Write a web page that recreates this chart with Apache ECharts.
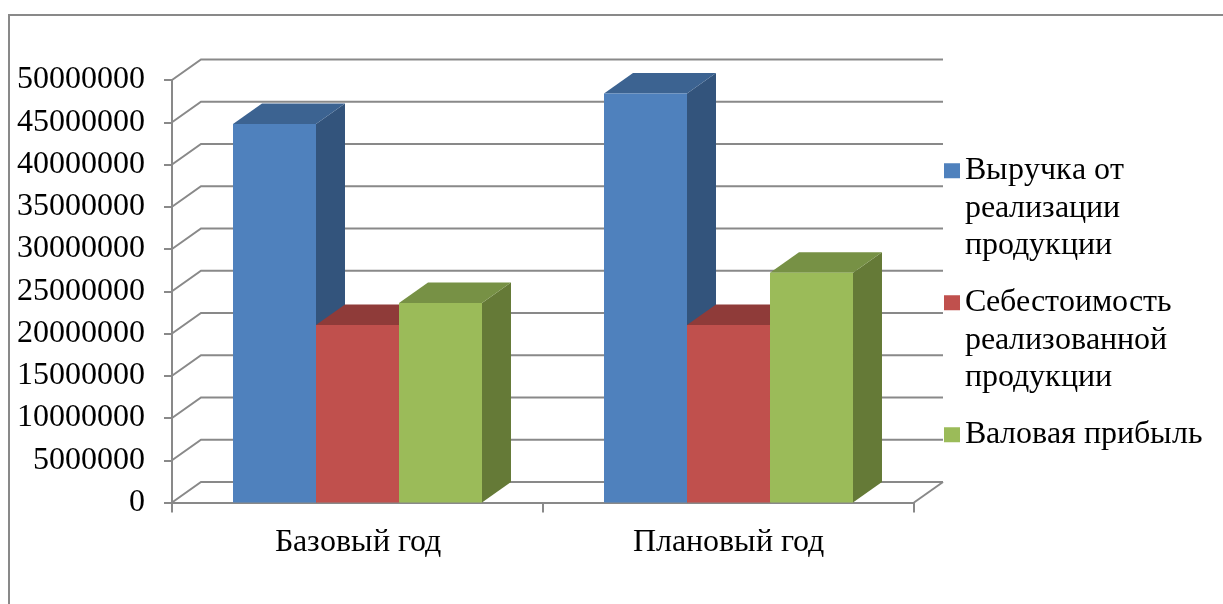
<!DOCTYPE html>
<html>
<head>
<meta charset="utf-8">
<script src="https://cdn.jsdelivr.net/npm/echarts@6/dist/echarts.min.js"></script>
<style>
  @font-face {
    font-family: 'ChartSerif';
    src: local('Liberation Serif'), local('LiberationSerif'), local('LiberationSerif-Regular'), local('Times New Roman');
  }
  html, body { margin: 0; padding: 0; background: #fff; }
  #chart { width: 1223px; height: 604px; }
  #probe { position: absolute; left: -9999px; font-family: 'ChartSerif'; }
</style>
</head>
<body>
<div id="probe">Базовый год 0123</div>
<div id="chart"></div>
<script>
const categories = ['Базовый год', 'Плановый год'];
const revenue = [44800000, 48400000];
const cost = [21000000, 21000000];
const grossProfit = [23600000, 27200000];
const yTicks = [0, 5000000, 10000000, 15000000, 20000000, 25000000,
                30000000, 35000000, 40000000, 45000000, 50000000];
const seriesNames = [
    'Выручка от\nреализации\nпродукции',
    'Себестоимость\nреализованной\nпродукции',
    'Валовая прибыль'
];

// depth of the fake 3d box, px
const depthX = 29;
const depthY = 20.5;
const barRatio = 0.2237;
const lineGray = '#898989';
const font = "ChartSerif, 'Times New Roman', serif";
const fontSize = 31.5;

// front / top / side colours per series
const shades = [
    ['#4F81BD', '#3C6391', '#33547C'],
    ['#C0504D', '#8F3B39', '#7C3331'],
    ['#9BBB59', '#779145', '#657A37']
];

// square at the top of a tall box, so the marker sits on the first text line
const topSquare = 'path://M0,0h16v15h-16z M0,89.98h0.02v0.02h-0.02z';

function barRenderer(slot) {
    return function (params, api) {
        const bottom = api.coord([api.value(0), 0]);
        const top = api.coord([api.value(0), api.value(1)]);
        const band = api.size([1, 0])[0];
        const bw = band * barRatio;
        const x0 = bottom[0] + (slot - 1.5) * bw;
        const x1 = x0 + bw;
        const yT = top[1];
        const yB = bottom[1];
        const c = shades[slot];
        return {
            type: 'group',
            children: [
                {
                    type: 'polygon',
                    shape: { points: [[x1, yT], [x1 + depthX, yT - depthY], [x1 + depthX, yB - depthY], [x1, yB]] },
                    style: { fill: c[2] }
                },
                {
                    type: 'polygon',
                    shape: { points: [[x0, yT], [x0 + depthX, yT - depthY], [x1 + depthX, yT - depthY], [x1, yT]] },
                    style: { fill: c[1] }
                },
                {
                    type: 'rect',
                    shape: { x: x0, y: yT, width: bw, height: yB - yT },
                    style: { fill: c[0] }
                }
            ]
        };
    };
}

function gridRenderer(params, api) {
    const cs = params.coordSys;
    const v = api.value(1);
    const y = api.coord([0, v])[1];
    const lineStyle = { stroke: lineGray, lineWidth: 2, fill: null };
    const children = [{
        type: 'polyline',
        shape: { points: [[cs.x, y], [cs.x + depthX, y - depthY], [cs.x + cs.width + depthX, y - depthY]] },
        style: lineStyle
    }];
    if (v === 0) {
        children.push({
            type: 'line',
            shape: { x1: cs.x + cs.width, y1: y, x2: cs.x + cs.width + depthX, y2: y - depthY },
            style: lineStyle
        });
    }
    return { type: 'group', children: children };
}

const dom = document.getElementById('chart');
const myChart = echarts.init(dom);

const legendText = { fontFamily: font, fontSize: fontSize, lineHeight: 37.5, color: '#000' };

function legendBox(name, top, tall) {
    return {
        orient: 'vertical',
        left: 944,
        top: top,
        padding: 0,
        itemWidth: 16,
        itemHeight: tall ? 90 : 15,
        icon: tall ? topSquare : 'rect',
        data: [name],
        textStyle: legendText
    };
}

const option = {
    animation: false,
    graphic: [{
        type: 'rect',
        shape: { x: 9, y: 15, width: 1400, height: 800 },
        style: { fill: null, stroke: lineGray, lineWidth: 2 },
        silent: true
    }],
    grid: { left: 172, right: 309, top: 80, bottom: 101.5 },
    legend: [
        legendBox(seriesNames[0], 152, true),
        legendBox(seriesNames[1], 284, true),
        legendBox(seriesNames[2], 416, false)
    ],
    xAxis: {
        type: 'category',
        data: categories,
        axisLine: { lineStyle: { color: lineGray, width: 2 } },
        axisTick: { show: true, length: 10, lineStyle: { color: lineGray, width: 2 } },
        axisLabel: { margin: 24, color: '#000', fontFamily: font, fontSize: fontSize },
        splitLine: { show: false }
    },
    yAxis: {
        type: 'value',
        min: 0,
        max: 50000000,
        interval: 5000000,
        axisLine: { show: true, lineStyle: { color: lineGray, width: 2 } },
        axisTick: { show: true, length: 8, lineStyle: { color: lineGray, width: 2 } },
        axisLabel: {
            margin: 27, color: '#000', fontFamily: font, fontSize: fontSize,
            formatter: function (v) { return String(v); }
        },
        splitLine: { show: false }
    },
    series: [
        {
            type: 'custom',
            name: 'grid3d',
            silent: true,
            z: 1,
            data: yTicks.map(function (v) { return [0, v]; }),
            renderItem: gridRenderer
        },
        {
            type: 'custom',
            name: seriesNames[0],
            z: 2,
            itemStyle: { color: shades[0][0] },
            data: revenue.map(function (v, i) { return [i, v]; }),
            renderItem: barRenderer(0)
        },
        {
            type: 'custom',
            name: seriesNames[1],
            z: 3,
            itemStyle: { color: shades[1][0] },
            data: cost.map(function (v, i) { return [i, v]; }),
            renderItem: barRenderer(1)
        },
        {
            type: 'custom',
            name: seriesNames[2],
            z: 4,
            itemStyle: { color: shades[2][0] },
            data: grossProfit.map(function (v, i) { return [i, v]; }),
            renderItem: barRenderer(2)
        }
    ]
};

myChart.setOption(option, true);
if (document.fonts && document.fonts.load) {
    document.fonts.load('31px ChartSerif').then(function () {
        myChart.setOption(option, true);
    });
}
</script>
</body>
</html>
